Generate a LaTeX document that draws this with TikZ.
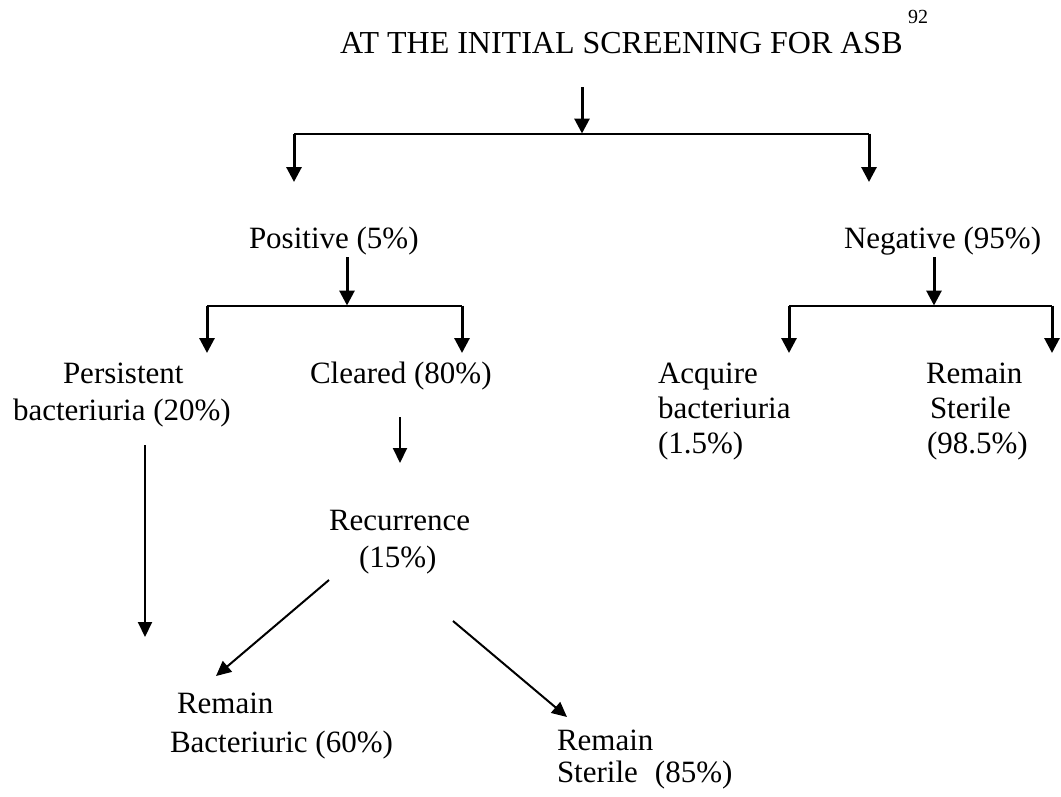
\documentclass[tikz,border=0pt]{standalone}
\usepackage{fontspec}
\setmainfont{Liberation Serif}
\usetikzlibrary{arrows.meta}
\tikzset{
  lbl/.style={anchor=base west, inner sep=0pt, outer sep=0pt, font=\fontsize{31}{37}\selectfont},
  ttl/.style={anchor=base west, inner sep=0pt, outer sep=0pt, font=\fontsize{32}{38}\selectfont},
  sup/.style={anchor=base west, inner sep=0pt, outer sep=0pt, font=\fontsize{20}{24}\selectfont},
  bar/.style={line width=2pt},
  thickarrow/.style={line width=3pt, -{Triangle[width=15pt,length=15pt]}},
  thinarrow/.style={line width=2pt, -{Triangle[width=14pt,length=15pt]}},
  plainline/.style={line width=2pt}
}
\begin{document}
\begin{tikzpicture}[x=1pt,y=-1pt]
\useasboundingbox (0,0) rectangle (1061,796);
\fill[white] (0,0) rectangle (1061,796);

% texts
\node[ttl] (title) at (340,53) {AT THE INITIAL SCREENING FOR ASB};
\node[sup] (ref) at (908,23) {92};
\node[lbl] (pos) at (249,248) {Positive (5\%)};
\node[lbl] (neg) at (844,248) {Negative (95\%)};
\node[lbl] (pers1) at (63,383) {Persistent};
\node[lbl] (pers2) at (13,420) {bacteriuria (20\%)};
\node[lbl] (clr) at (310,383) {Cleared (80\%)};
\node[lbl] (acq1) at (658,383) {Acquire};
\node[lbl] (acq2) at (658,418) {bacteriuria};
\node[lbl] (acq3) at (658,453) {(1.5\%)};
\node[lbl] (rs1) at (926,383) {Remain};
\node[lbl] (rs2) at (930,418) {Sterile};
\node[lbl] (rs3) at (927,453) {(98.5\%)};
\node[lbl] (rec1) at (329,530) {Recurrence};
\node[lbl] (rec2) at (359,567) {(15\%)};
\node[lbl] (rb1) at (177,713) {Remain};
\node[lbl] (rb2) at (170,752) {Bacteriuric (60\%)};
\node[lbl] (rst1) at (557,750) {Remain};
\node[lbl] (rst2) at (557,782) {Sterile\hspace{17pt}(85\%)};

% connector points
\coordinate (t0) at (582,87);
\coordinate (tj) at (582,133.5);
\coordinate (tl) at (294,133.5);
\coordinate (tr) at (869,133.5);
\coordinate (tlb) at (294,182);
\coordinate (trb) at (869,182);

\coordinate (p0) at (347,257);
\coordinate (pj) at (347,305.5);
\coordinate (pl) at (207,305.5);
\coordinate (pr) at (462,305.5);
\coordinate (plb) at (207,353);
\coordinate (prb) at (462,353);

\coordinate (n0) at (934,257);
\coordinate (nj) at (934,305.5);
\coordinate (nl) at (789,305.5);
\coordinate (nr) at (1052,305.5);
\coordinate (nlb) at (789,353);
\coordinate (nrb) at (1052,353);

\coordinate (c0) at (400,417);
\coordinate (c1) at (400,463);
\coordinate (s0) at (145,445);
\coordinate (s1) at (145,637);
\coordinate (d0) at (329,580);
\coordinate (d1) at (216,676);
\coordinate (e0) at (453,621);
\coordinate (e1) at (567,717);

% top split
\draw[thickarrow] (t0) -- (tj);
\draw[bar] (tl) -- (tr);
\draw[thickarrow] (tl) -- (tlb);
\draw[thickarrow] (tr) -- (trb);

% positive split
\draw[thickarrow] (p0) -- (pj);
\draw[bar] (pl) -- (pr);
\draw[thickarrow] (pl) -- (plb);
\draw[thickarrow] (pr) -- (prb);

% negative split
\draw[thickarrow] (n0) -- (nj);
\draw[bar] (nl) -- (nr);
\draw[thickarrow] (nl) -- (nlb);
\draw[thickarrow] (nr) -- (nrb);

% lower arrows
\draw[thinarrow] (c0) -- (c1);
\draw[thinarrow] (s0) -- (s1);
\draw[thinarrow] (d0) -- (d1);
\draw[thinarrow] (e0) -- (e1);
\end{tikzpicture}
\end{document}
